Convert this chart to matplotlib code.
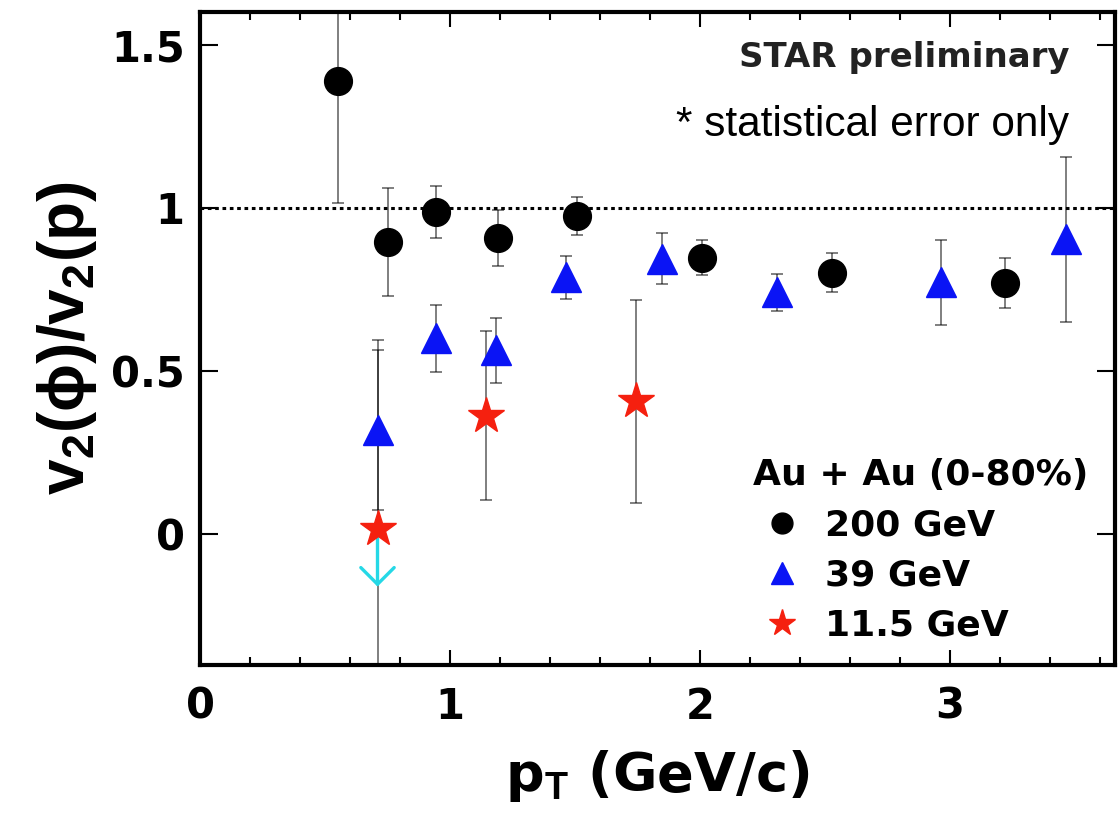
import matplotlib.pyplot as plt
from matplotlib.ticker import MultipleLocator, FormatStrFormatter

# bold sans for axis numbers, legend and labels
plt.rcParams['font.family'] = ['DejaVu Sans']
plt.rcParams['font.weight'] = 'bold'
plt.rcParams['axes.labelweight'] = 'bold'
plt.rcParams['mathtext.fontset'] = 'custom'
plt.rcParams['mathtext.rm'] = 'Liberation Sans:bold'
plt.rcParams['mathtext.it'] = 'Liberation Sans:bold'
plt.rcParams['mathtext.bf'] = 'Liberation Sans:bold'
plt.rcParams['mathtext.default'] = 'bf'

# v2(phi)/v2(p) vs pT, Au+Au 0-80%
pt_200 = [0.55, 0.75, 0.945, 1.19, 1.51, 2.01, 2.53, 3.22]
ratio_200 = [1.39, 0.895, 0.988, 0.909, 0.976, 0.848, 0.802, 0.770]
err_200 = [0.375, 0.165, 0.08, 0.086, 0.058, 0.055, 0.06, 0.078]

pt_39 = [0.71, 0.945, 1.185, 1.465, 1.85, 2.31, 2.965, 3.465]
ratio_39 = [0.32, 0.60, 0.564, 0.787, 0.845, 0.741, 0.772, 0.904]
err_39 = [0.245, 0.104, 0.10, 0.067, 0.079, 0.058, 0.131, 0.253]

pt_11 = [0.71, 1.145, 1.745]
ratio_11 = [0.018, 0.364, 0.408]
err_11 = [0.578, 0.259, 0.311]

# upper limit for the lowest 11.5 GeV point
lim_pt = 0.71
lim_end = -0.16

xticks = [0, 1, 2, 3]
yticks = [0, 0.5, 1, 1.5]

fig = plt.figure(figsize=(11.18, 8.24), dpi=100)
ax = fig.add_axes([0.1789, 0.193, 0.8184, 0.7924])

ax.axhline(1, color='black', ls=(0, (1.2, 1.2)), lw=2.2, zorder=1)

series = [
    (pt_200, ratio_200, err_200, 'o', 'black', 20, '200 GeV'),
    (pt_39, ratio_39, err_39, '^', '#0a14f5', 21, '39 GeV'),
    (pt_11, ratio_11, err_11, '*', '#f5200f', 27, '11.5 GeV'),
]

for x, y, e, m, c, s, lab in series:
    ax.errorbar(x, y, yerr=e, fmt='none', ecolor='black', alpha=0.5,
                elinewidth=1.4, capsize=4, capthick=1.4, zorder=2)

handles = []
for x, y, e, m, c, s, lab in series:
    h, = ax.plot(x, y, ls='none', marker=m, ms=s, color=c, mec=c, label=lab, zorder=4)
    handles.append(h)

ax.annotate('', xy=(lim_pt, lim_end), xytext=(lim_pt, ratio_11[0]),
            arrowprops=dict(arrowstyle='->,head_length=0.6,head_width=0.6',
                            color='#25d8e6', lw=2.4, shrinkA=0, shrinkB=0,
                            mutation_scale=20),
            zorder=3)

ax.set_xlim(0, 3.66)
ax.set_ylim(-0.4, 1.6)
ax.set_xticks(xticks)
ax.set_yticks(yticks)
ax.xaxis.set_minor_locator(MultipleLocator(0.2))
ax.xaxis.set_major_formatter(FormatStrFormatter('%g'))
ax.yaxis.set_major_formatter(FormatStrFormatter('%g'))
ax.tick_params(which='both', direction='in', top=True, right=True, width=1.5)
ax.tick_params(axis='x', which='major', length=11, labelsize=30, pad=15)
ax.tick_params(axis='x', which='minor', length=6)
ax.tick_params(axis='y', which='major', length=13, labelsize=30, pad=11)
for sp in ax.spines.values():
    sp.set_linewidth(3)

ax.set_xlabel(r'p$_\mathbf{T}$ (GeV/c)', fontsize=39, va='top', fontweight='bold')
ax.xaxis.set_label_coords(0.5, -0.127)
ax.set_ylabel(r'v$_2$(ϕ)/v$_2$(p)', fontsize=46,
              family=['Liberation Sans', 'DejaVu Sans'], fontweight='bold')
ax.yaxis.set_label_coords(-0.11, 0.5)

ax.text(0.95, 0.931, 'STAR preliminary', transform=ax.transAxes,
        ha='right', va='center', fontsize=24.5, color='#222222')
ax.text(0.95, 0.827, '* statistical error only', transform=ax.transAxes,
        ha='right', va='center', fontsize=30.5, fontweight='normal',
        family='Liberation Sans')

leg = ax.legend(handles=handles, title='Au + Au (0-80%)', loc='upper left',
                bbox_to_anchor=(0.604, 0.317), frameon=False, markerscale=0.75,
                numpoints=1, handlelength=1.6, handletextpad=0.4,
                labelspacing=0.45, borderpad=0, borderaxespad=0,
                alignment='left', prop=dict(size=26, weight='bold'),
                title_fontproperties=dict(size=26, weight='bold'))

fig.savefig('out.png', dpi=100)
